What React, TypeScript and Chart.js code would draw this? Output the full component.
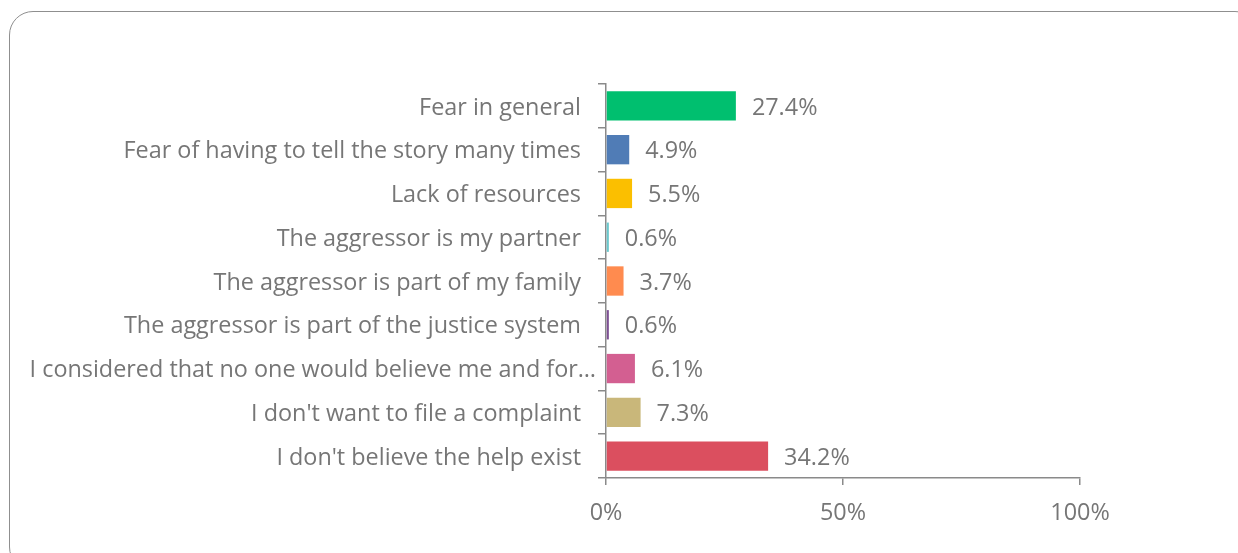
import React, { useEffect, useRef } from "react";
import { Chart, registerables } from "chart.js";

Chart.register(...registerables);

const categories = [
  "Fear in general",
  "Fear of having to tell the story many times",
  "Lack of resources",
  "The aggressor is my partner",
  "The aggressor is part of my family",
  "The aggressor is part of the justice system",
  "I considered that no one would believe me and for…",
  "I don't want to file a complaint",
  "I don't believe the help exist",
];
const values = [27.4, 4.9, 5.5, 0.6, 3.7, 0.6, 6.1, 7.3, 34.2];
const barColors = [
  "#00BF6F",
  "#507CB6",
  "#FBBF00",
  "#6BC8CD",
  "#FF8B4F",
  "#7D5093",
  "#D35F91",
  "#C9B77A",
  "#DB4F5F",
];
const xTicks = [0, 50, 100];
// the truncated category is drawn closer to the axis, as in the original
const truncatedIndex = 6;

const TEXT = "#767676";
const AXIS = "#8a8a8a";
const FONT = "'Open Sans'";
const FSIZE = 23.4;

const valueLabels = {
  id: "valueLabels",
  afterDatasetsDraw(chart: any) {
    const ctx = chart.ctx;
    const meta = chart.getDatasetMeta(0);
    const yScale = chart.scales.y;
    ctx.save();
    ctx.font = `${FSIZE}px ${FONT}`;
    ctx.fillStyle = TEXT;
    ctx.textBaseline = "middle";
    ctx.textAlign = "left";
    meta.data.forEach((bar: any, i: number) => {
      ctx.fillText(values[i].toFixed(1) + "%", bar.x + 16, bar.y + 2);
    });
    ctx.textAlign = "right";
    const yPos = yScale.getPixelForValue(truncatedIndex);
    ctx.fillText(categories[truncatedIndex], yScale.right - 10, yPos + 2);
    ctx.restore();
  },
};

export default function App() {
  const ref = useRef<HTMLCanvasElement | null>(null);
  useEffect(() => {
    if (!ref.current) return;
    const chart = new Chart(ref.current, {
      type: "bar",
      data: {
        labels: categories,
        datasets: [
          {
            data: values,
            backgroundColor: barColors,
            borderWidth: 0,
            barPercentage: 0.67,
            categoryPercentage: 1,
          },
        ],
      },
      plugins: [valueLabels],
      options: {
        indexAxis: "y",
        responsive: false,
        animation: false,
        layout: { padding: { left: 0, top: 84, right: 158, bottom: 0 } },
        plugins: { legend: { display: false }, tooltip: { enabled: false } },
        scales: {
          y: {
            afterFit(scale: any) {
              scale.width = 606;
            },
            border: { color: AXIS, width: 1.5 },
            grid: {
              drawOnChartArea: false,
              drawTicks: true,
              tickLength: 8,
              color: AXIS,
              lineWidth: 1.5,
            },
            ticks: {
              color: TEXT,
              padding: 17,
              labelOffset: 2,
              font: { family: FONT, size: FSIZE },
              callback: (_v: any, i: number) =>
                i === truncatedIndex ? "" : categories[i],
            },
          },
          x: {
            min: 0,
            max: 100,
            afterFit(scale: any) {
              scale.height = 75;
            },
            afterBuildTicks(scale: any) {
              scale.ticks = xTicks.map((v) => ({ value: v }));
            },
            border: { color: AXIS, width: 1.5 },
            grid: {
              drawOnChartArea: false,
              drawTicks: true,
              tickLength: 7,
              color: AXIS,
              lineWidth: 1.5,
            },
            ticks: {
              color: TEXT,
              padding: 14,
              font: { family: FONT, size: FSIZE },
              callback: (v: any) => v + "%",
            },
          },
        },
      },
    });
    return () => chart.destroy();
  }, []);
  return (
    <div
      style={{
        position: "fixed",
        left: 0,
        top: 0,
        width: 1238,
        height: 553,
        overflow: "hidden",
        background: "#fff",
      }}
    >
      <div
        style={{
          position: "absolute",
          left: 9,
          top: 11,
          width: 1250,
          height: 560,
          border: "1.5px solid #8f8f8f",
          borderRadius: 24,
          boxSizing: "border-box",
        }}
      />
      <canvas
        ref={ref}
        width={1238}
        height={553}
        style={{ position: "absolute", left: 0, top: 0 }}
      />
    </div>
  );
}
